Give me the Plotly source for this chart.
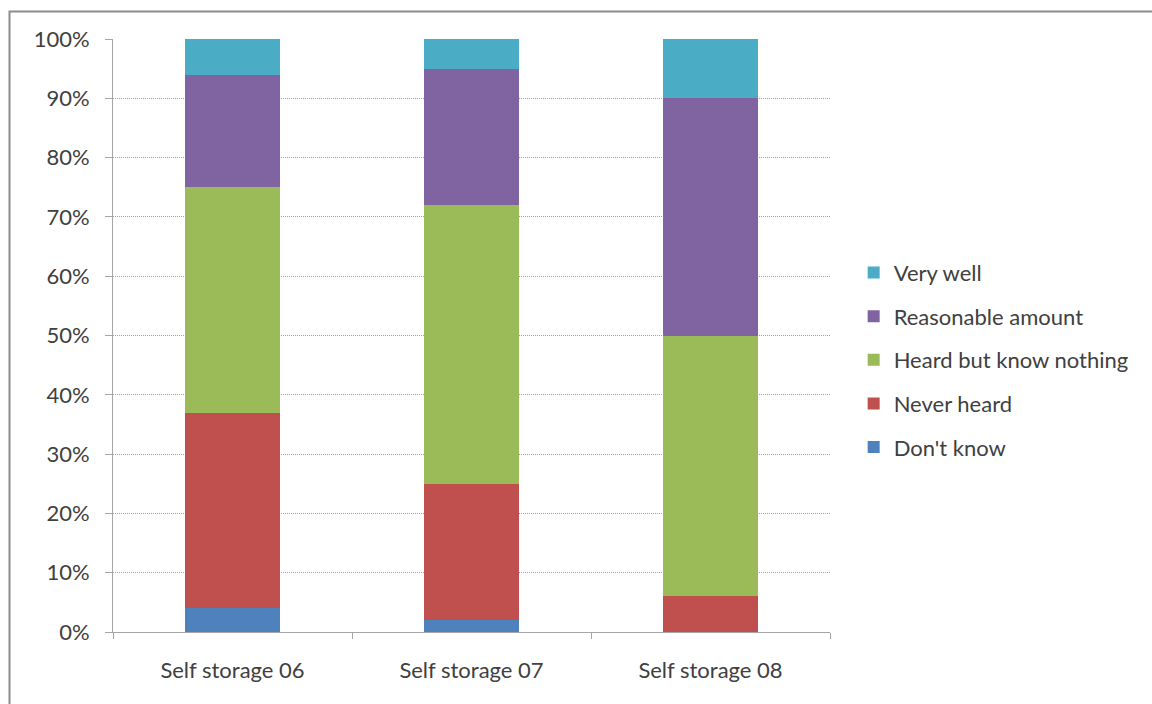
import plotly.graph_objects as go

categories = ["Self storage 06", "Self storage 07", "Self storage 08"]

dont_know = [4, 2, 0]
never_heard = [33, 23, 6]
heard_know_nothing = [38, 47, 44]
reasonable_amount = [19, 23, 40]
very_well = [6, 5, 10]

series = [
    ("Don't know", dont_know, "#4F81BD"),
    ("Never heard", never_heard, "#C0504D"),
    ("Heard but know nothing", heard_know_nothing, "#9BBB59"),
    ("Reasonable amount", reasonable_amount, "#8064A2"),
    ("Very well", very_well, "#4BACC6"),
]

fig = go.Figure()
for i, (name, vals, color) in enumerate(series):
    fig.add_trace(go.Bar(
        x=categories, y=vals, name=name, legendgroup=name,
        legendrank=len(series) - i,
        marker=dict(color=color, line=dict(width=0)),
    ))

font_family = "Lato, 'Open Sans', sans-serif"
text_color = "#404040"

fig.update_layout(
    barmode="stack",
    barnorm="percent",
    bargap=0.6,
    width=1152, height=704,
    margin=dict(l=113, r=322, t=39, b=72),
    paper_bgcolor="white",
    plot_bgcolor="white",
    font=dict(family=font_family, size=22, color=text_color),
    showlegend=True,
    legend=dict(
        x=1.033, xanchor="left",
        y=0.459, yanchor="middle",
        traceorder="grouped",
        tracegroupgap=12,
        font=dict(size=22, color=text_color),
        itemwidth=30,
        bgcolor="rgba(0,0,0,0)",
    ),
    xaxis=dict(
        showline=True, linecolor="#a6a6a6", linewidth=1,
        ticks="outside", tickson="boundaries", ticklen=6, tickcolor="#a6a6a6",
        showgrid=False,
        ticklabelstandoff=19,
        tickfont=dict(size=22, color=text_color),
    ),
    yaxis=dict(
        range=[0, 100],
        tickvals=[0, 10, 20, 30, 40, 50, 60, 70, 80, 90, 100],
        ticktext=["0%", "10%", "20%", "30%", "40%", "50%", "60%", "70%", "80%", "90%", "100%"],
        showline=True, linecolor="#a6a6a6", linewidth=1,
        ticks="outside", ticklen=7, tickcolor="#a6a6a6",
        showgrid=True, gridcolor="#a0a0a0", griddash="1px,1px", gridwidth=1,
        zeroline=False,
        ticklabelstandoff=11,
        tickfont=dict(size=22, color=text_color),
    ),
)

# Outer chart frame
fig.add_shape(
    type="rect", xref="paper", yref="paper",
    x0=(9.5 - 113) / 717, x1=(1160 - 113) / 717,
    y0=-(712 - 632) / 593, y1=1 + (39 - 11.5) / 593,
    line=dict(color="#8c8c8c", width=2), fillcolor="rgba(0,0,0,0)",
    layer="below",
)

fig.write_html("out.html")
